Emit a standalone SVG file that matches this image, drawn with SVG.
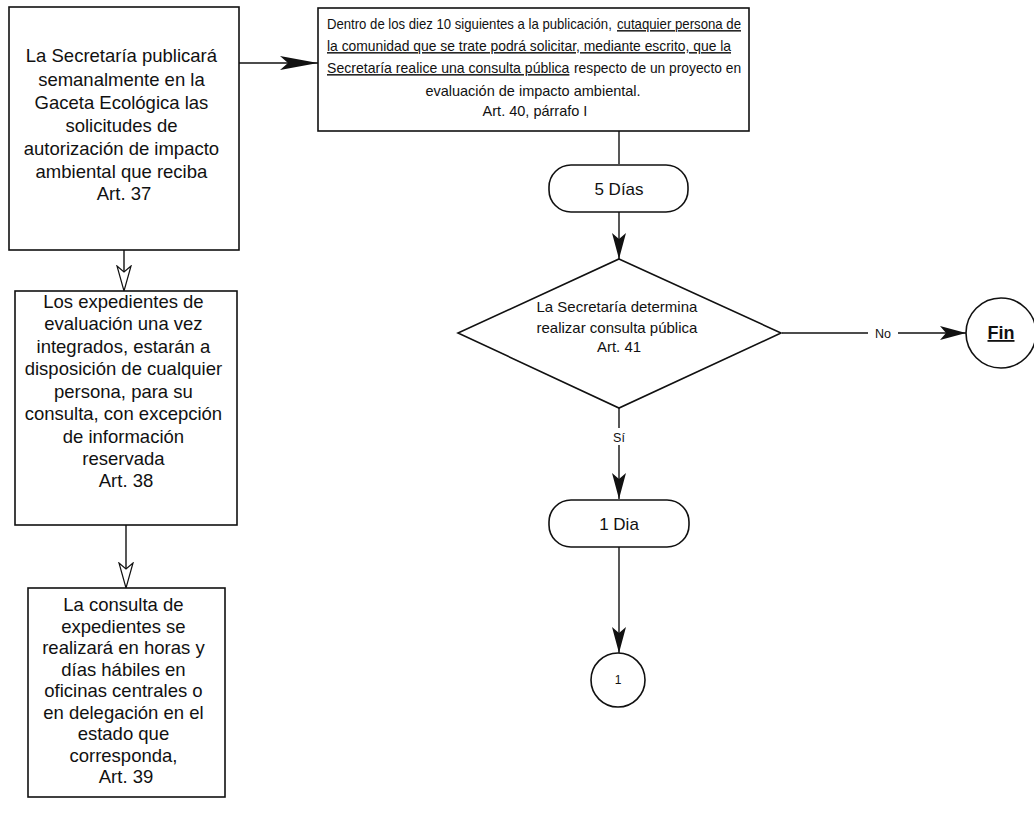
<svg xmlns="http://www.w3.org/2000/svg" width="1034" height="815" viewBox="0 0 1034 815">
  <style>
    .box { fill: #fff; stroke: #111; stroke-width: 1.6; }
    .edge { fill: none; stroke: #111; stroke-width: 1.4; }
    .t { font-family: "Liberation Sans", Arial, sans-serif; fill: #111; text-anchor: middle; }
    .s { text-anchor: start; }
    .big { font-size: 18.5px; }
    .mid { font-size: 14.5px; }
    .lbl { font-size: 12.5px; }
    .u { text-decoration: underline; }
  </style>
  <defs>
    <marker id="solid" markerUnits="userSpaceOnUse" markerWidth="28" markerHeight="16" refX="26" refY="7" orient="auto">
      <path d="M0,0 L26,7 L0,14 L6,7 z" fill="#111"/>
    </marker>
    <marker id="solidLong" markerUnits="userSpaceOnUse" markerWidth="40" markerHeight="16" refX="38" refY="7" orient="auto">
      <path d="M0,0 L38,7 L0,14 L8,7 z" fill="#111"/>
    </marker>
    <marker id="hollow" markerUnits="userSpaceOnUse" markerWidth="30" markerHeight="18" refX="26" refY="8" orient="auto">
      <path d="M1,1 L26,8 L1,15 L7,8 z" fill="#fff" stroke="#111" stroke-width="1.2"/>
    </marker>
  </defs>

  <!-- connectors -->
  <g id="connectors">
    <path class="edge" d="M239,63 L318,63" marker-end="url(#solidLong)"/>
    <path class="edge" d="M124,249 L124,291" stroke="#bbb" stroke-width="0.5" marker-end="url(#hollow)"/>
    <path class="edge" d="M126,525 L126,588" stroke="#bbb" stroke-width="0.5" marker-end="url(#hollow)"/>
    <path class="edge" d="M619,131 L619,164"/>
    <path class="edge" d="M619,212 L619,259" marker-end="url(#solid)"/>
    <path class="edge" d="M619,408 L619,428"/>
    <path class="edge" d="M619,445 L619,499" marker-end="url(#solid)"/>
    <path class="edge" d="M619,547 L619,653" marker-end="url(#solid)"/>
    <path class="edge" d="M782,333 L868,333"/>
    <path class="edge" d="M898,333 L966,333" stroke-width="2" marker-end="url(#solid)"/>
    <text class="t lbl" x="883" y="338">No</text>
    <text class="t lbl" x="619" y="442">Sí</text>
  </g>

  <!-- left column -->
  <g id="publicacion">
    <rect class="box" x="9" y="7" width="230" height="243"/>
    <text class="t big">
      <tspan x="124" y="62">La Secretaría publicará</tspan>
      <tspan x="124" y="86">semanalmente en la</tspan>
      <tspan x="124" y="109">Gaceta Ecológica las</tspan>
      <tspan x="124" y="132">solicitudes de</tspan>
      <tspan x="124" y="155">autorización de impacto</tspan>
      <tspan x="124" y="178">ambiental que reciba</tspan>
      <tspan x="124" y="200">Art. 37</tspan>
    </text>
  </g>

  <g id="expedientes">
    <rect class="box" x="15" y="291" width="222" height="234"/>
    <text class="t big">
      <tspan x="126" y="308">Los expedientes de</tspan>
      <tspan x="126" y="330">evaluación una vez</tspan>
      <tspan x="126" y="353">integrados, estarán a</tspan>
      <tspan x="126" y="375">disposición de cualquier</tspan>
      <tspan x="126" y="398">persona, para su</tspan>
      <tspan x="126" y="420">consulta, con excepción</tspan>
      <tspan x="126" y="443">de información</tspan>
      <tspan x="126" y="465">reservada</tspan>
      <tspan x="126" y="487">Art. 38</tspan>
    </text>
  </g>

  <g id="consulta-expedientes">
    <rect class="box" x="28" y="588" width="197" height="209"/>
    <text class="t big">
      <tspan x="126" y="611">La consulta de</tspan>
      <tspan x="126" y="632.5">expedientes se</tspan>
      <tspan x="126" y="654">realizará en horas y</tspan>
      <tspan x="126" y="675.5">días hábiles en</tspan>
      <tspan x="126" y="697">oficinas centrales o</tspan>
      <tspan x="126" y="718.5">en delegación en el</tspan>
      <tspan x="126" y="740">estado que</tspan>
      <tspan x="126" y="761.5">corresponda,</tspan>
      <tspan x="126" y="783">Art. 39</tspan>
    </text>
  </g>

  <!-- right column: the condensed lines use a horizontal scale of 0.8 -->
  <g id="solicitud">
    <rect class="box" x="318" y="8" width="431" height="123"/>
    <text class="t mid s" transform="translate(327,29) scale(0.8,1)" textLength="356" lengthAdjust="spacingAndGlyphs">Dentro de los diez 10 siguientes a la publicación,</text>
    <text class="t mid s u" transform="translate(617,29) scale(0.8,1)" textLength="155" lengthAdjust="spacingAndGlyphs">cutaquier persona de</text>
    <text class="t mid s u" transform="translate(327,51) scale(0.8,1)" textLength="505" lengthAdjust="spacingAndGlyphs">la comunidad que se trate podrá solicitar, mediante escrito, que la</text>
    <text class="t mid s u" transform="translate(327,73) scale(0.8,1)" textLength="303" lengthAdjust="spacingAndGlyphs">Secretaría realice una consulta pública</text>
    <text class="t mid s" transform="translate(574,73) scale(0.8,1)" textLength="209" lengthAdjust="spacingAndGlyphs">respecto de un proyecto en</text>
    <text class="t mid" x="533" y="96">evaluación de impacto ambiental.</text>
    <text class="t mid" x="535" y="116">Art. 40, párrafo I</text>
  </g>

  <g id="plazo-5">
    <rect class="box" x="549" y="165" width="139" height="47" rx="22" ry="22"/>
    <text class="t" font-size="17" x="619" y="195">5 Días</text>
  </g>

  <g id="decision">
    <polygon class="box" points="619,259 781,333 619,408 458,333"/>
    <text class="t" font-size="15">
      <tspan x="619" y="312">La Secretaría determina</tspan>
      <tspan x="619" y="333">realizar consulta pública</tspan>
      <tspan x="619" y="352">Art. 41</tspan>
    </text>
  </g>

  <g id="fin">
    <circle class="box" cx="1001" cy="333" r="35" stroke-width="1.3"/>
    <text class="t u" font-size="18" font-weight="bold" x="1001" y="339">Fin</text>
  </g>

  <g id="plazo-1">
    <rect class="box" x="549" y="500" width="140" height="47" rx="22" ry="22"/>
    <text class="t" font-size="17" x="619" y="530">1 Dia</text>
  </g>

  <g id="conector-1">
    <circle class="box" cx="618" cy="680" r="27" stroke-width="1.3"/>
    <text class="t" font-size="12" x="618" y="684">1</text>
  </g>
</svg>
